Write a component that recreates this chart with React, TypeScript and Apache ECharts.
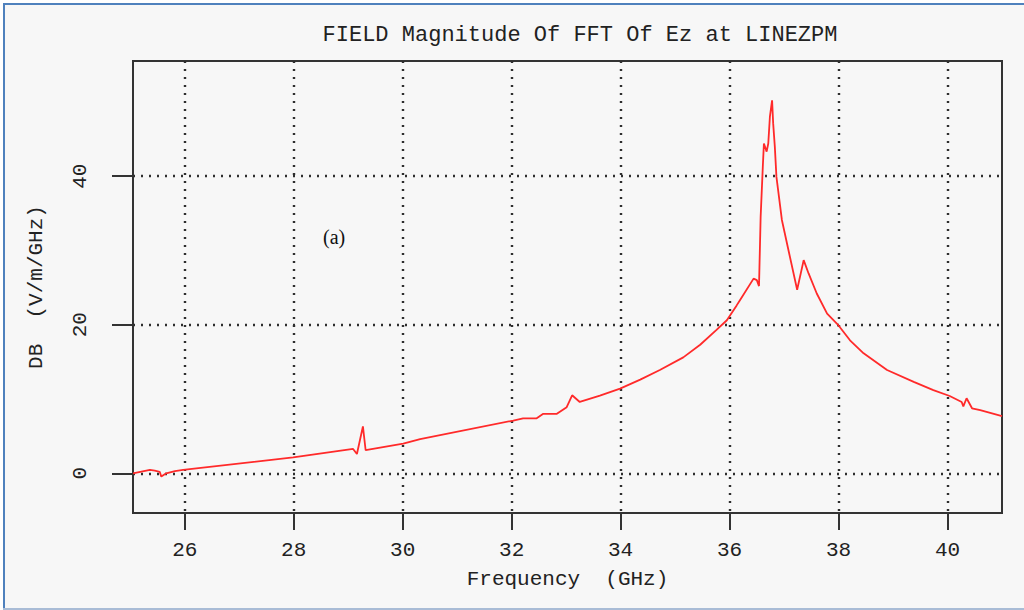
import { useEffect, useRef } from "react";
import * as echarts from "echarts";

// Spectrum samples: frequency (GHz) and field magnitude (dB V/m/GHz)
const freqGHz = [
  25.05, 25.36, 25.45, 25.54, 25.57, 25.66, 25.82, 25.97, 27.99, 29.09,
  29.16, 29.27, 29.32, 30.01, 30.32, 32.03, 32.21, 32.46, 32.58, 32.83,
  33.01, 33.11, 33.25, 33.62, 33.99, 34.36, 34.72, 35.15, 35.46, 35.76,
  35.95, 36.13, 36.19, 36.44, 36.5, 36.54, 36.55, 36.57, 36.61, 36.63,
  36.68, 36.71, 36.74, 36.78, 36.8, 36.83, 36.86, 36.96, 37.08, 37.24,
  37.36, 37.45, 37.6, 37.79, 38.0, 38.21, 38.46, 38.89, 39.38, 39.74,
  40.04, 40.26, 40.29, 40.35, 40.45, 40.6, 41.0,
];
const dbValues = [
  0.0, 0.45, 0.35, 0.2, -0.45, 0.0, 0.3, 0.45, 2.15, 3.27,
  2.6, 6.3, 3.1, 4.0, 4.6, 7.1, 7.4, 7.4, 8.0, 8.0,
  8.9, 10.5, 9.6, 10.45, 11.4, 12.6, 13.9, 15.6, 17.3, 19.3,
  20.6, 22.6, 23.3, 26.2, 26.0, 25.2, 28.3, 34.5, 41.3, 44.4,
  43.3, 44.4, 48.0, 50.2, 47.1, 44.0, 39.9, 34.1, 30.05, 24.7,
  28.7, 26.9, 24.2, 21.5, 19.9, 17.9, 16.15, 13.9, 12.3, 11.2,
  10.4, 9.6, 9.0, 10.1, 8.75, 8.5, 7.7,
];

const xTicks = [26, 28, 30, 32, 34, 36, 38, 40];
const yTicks = [0, 20, 40];

const titleText = "FIELD Magnitude Of FFT Of Ez at LINEZPM";
const xName = "Frequency  (GHz)";
const yName = "DB  (V/m/GHz)";
const panelTag = "(a)";

const MONO = "'Liberation Mono', 'DejaVu Sans Mono', monospace";
const INK = "#222222";

export default function App() {
  const ref = useRef<HTMLDivElement>(null);

  useEffect(() => {
    const chart = echarts.init(ref.current!, null, { renderer: "svg" });
    const gridLine = { type: [2, 6] as number[], width: 2.4, color: "#2e2e2e" };

    chart.setOption({
      animation: false,
      backgroundColor: "#f7f7f7",
      title: {
        text: titleText,
        left: 575,
        top: 19,
        textAlign: "center",
        textStyle: { fontFamily: MONO, fontSize: 22, fontWeight: "normal", color: INK },
      },
      grid: {
        left: 133,
        right: 22,
        top: 61,
        bottom: 97,
        show: true,
        borderColor: "#333333",
        borderWidth: 2,
        backgroundColor: "transparent",
      },
      xAxis: {
        type: "value",
        min: 25.05,
        max: 41,
        name: xName,
        nameLocation: "middle",
        nameGap: 56,
        nameTextStyle: { fontFamily: MONO, fontSize: 21, color: INK },
        axisLine: { show: true, onZero: false, lineStyle: { color: "#333333", width: 2 } },
        axisTick: {
          show: true,
          length: 17,
          customValues: xTicks,
          lineStyle: { color: "#333333", width: 2 },
        },
        axisLabel: {
          customValues: xTicks,
          margin: 27,
          fontFamily: MONO,
          fontSize: 21,
          color: INK,
        },
        splitLine: { show: true, lineStyle: gridLine },
      },
      yAxis: {
        type: "value",
        min: -5.35,
        max: 55.5,
        name: yName,
        nameLocation: "middle",
        nameRotate: 90,
        nameGap: 86,
        nameTextStyle: { fontFamily: MONO, fontSize: 21, color: INK },
        axisLine: { show: true, onZero: false, lineStyle: { color: "#333333", width: 2 } },
        axisTick: {
          show: true,
          length: 21,
          customValues: yTicks,
          lineStyle: { color: "#333333", width: 2 },
        },
        axisLabel: {
          customValues: yTicks,
          rotate: 90,
          margin: 42,
          fontFamily: MONO,
          fontSize: 21,
          color: INK,
        },
        splitLine: { show: true, lineStyle: gridLine },
      },
      graphic: [
        { type: "rect", shape: { x: 0, y: 0, width: 1024, height: 3 }, style: { fill: "#ffffff" }, silent: true },
        { type: "rect", shape: { x: 0, y: 0, width: 3, height: 610 }, style: { fill: "#ffffff" }, silent: true },
        { type: "line", shape: { x1: 3, y1: 4, x2: 1024, y2: 4 }, style: { stroke: "#4f81bd", lineWidth: 2 }, silent: true },
        { type: "line", shape: { x1: 4, y1: 3, x2: 4, y2: 610 }, style: { stroke: "#4f81bd", lineWidth: 2 }, silent: true },
        { type: "line", shape: { x1: 3, y1: 609, x2: 1024, y2: 609 }, style: { stroke: "#a9bcd6", lineWidth: 2 }, silent: true },
        {
          type: "text",
          x: 323,
          y: 237,
          style: {
            text: panelTag,
            fontFamily: "'Liberation Serif', 'DejaVu Serif', serif",
            fontSize: 20,
            fill: "#111111",
            verticalAlign: "middle",
          },
        },
      ],
      series: [
        {
          type: "line",
          data: freqGHz.map((f, i) => [f, dbValues[i]]),
          showSymbol: false,
          clip: true,
          lineStyle: { color: "#ff2a2a", width: 1.8 },
        },
      ],
    });

    return () => chart.dispose();
  }, []);

  return (
    <div
      ref={ref}
      style={{ position: "fixed", left: 0, top: 0, width: 1024, height: 610 }}
    />
  );
}
